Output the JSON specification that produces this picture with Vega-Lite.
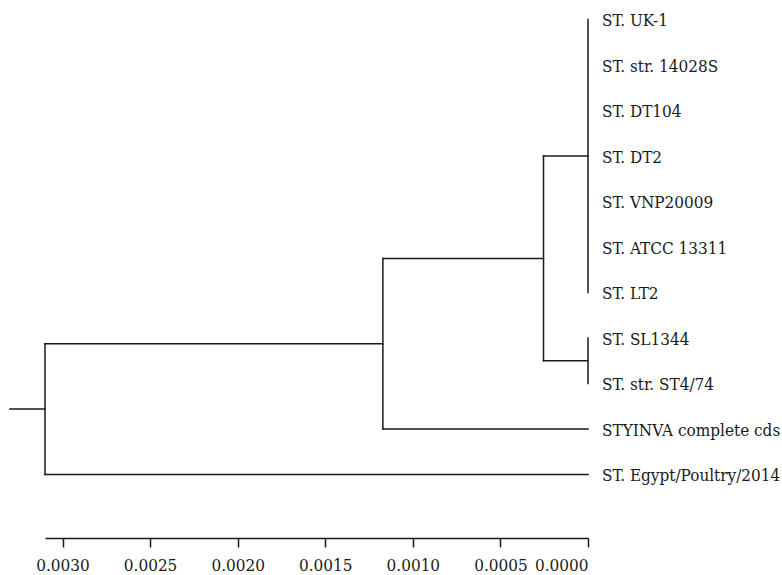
{
  "$schema": "https://vega.github.io/schema/vega-lite/v6.json",
  "width": 543,
  "height": 538,
  "autosize": "none",
  "padding": {"left": 45, "top": 0, "right": 194, "bottom": 37},
  "background": "white",
  "config": {"view": {"stroke": null}, "font": "DejaVu Serif Condensed, DejaVu Serif"},
  "datasets": {
    "segments": [
      {"x": 0.0033, "x2": 0.0031, "y": 9.5625, "y2": 9.5625},
      {"x": 0.0031, "x2": 0.0031, "y": 8.125, "y2": 11},
      {"x": 0.0031, "x2": 0.001171, "y": 8.125, "y2": 8.125},
      {"x": 0.0031, "x2": 0, "y": 11, "y2": 11},
      {"x": 0.001171, "x2": 0.001171, "y": 6.25, "y2": 10},
      {"x": 0.001171, "x2": 0.000254, "y": 6.25, "y2": 6.25},
      {"x": 0.001171, "x2": 0, "y": 10, "y2": 10},
      {"x": 0.000254, "x2": 0.000254, "y": 4, "y2": 8.5},
      {"x": 0.000254, "x2": 0, "y": 4, "y2": 4},
      {"x": 0.000254, "x2": 0, "y": 8.5, "y2": 8.5},
      {"x": 0, "x2": 0, "y": 1, "y2": 7},
      {"x": 0, "x2": 0, "y": 8, "y2": 9}
    ],
    "leaves": [
      {"name": "ST. UK-1", "height": 0, "order": 1},
      {"name": "ST. str. 14028S", "height": 0, "order": 2},
      {"name": "ST. DT104", "height": 0, "order": 3},
      {"name": "ST. DT2", "height": 0, "order": 4},
      {"name": "ST. VNP20009", "height": 0, "order": 5},
      {"name": "ST. ATCC 13311", "height": 0, "order": 6},
      {"name": "ST. LT2", "height": 0, "order": 7},
      {"name": "ST. SL1344", "height": 0, "order": 8},
      {"name": "ST. str. ST4/74", "height": 0, "order": 9},
      {"name": "STYINVA complete cds", "height": 0, "order": 10},
      {"name": "ST. Egypt/Poultry/2014", "height": 0, "order": 11}
    ]
  },
  "layer": [
    {
      "data": {"name": "segments"},
      "mark": {"type": "rule", "color": "#1a1a1a", "strokeWidth": 1.5, "strokeCap": "square"},
      "encoding": {
        "x": {
          "field": "x", "type": "quantitative",
          "scale": {"domain": [0, 0.0031], "reverse": true, "nice": false, "zero": false},
          "axis": {
            "title": null, "values": [0, 0.0005, 0.001, 0.0015, 0.002, 0.0025, 0.003],
            "format": ".4f", "grid": false,
            "domainColor": "#1a1a1a", "domainWidth": 1.5,
            "tickColor": "#1a1a1a", "tickWidth": 1.5, "tickSize": 9,
            "labelFont": "DejaVu Serif Condensed, DejaVu Serif", "labelFontSize": 17, "labelColor": "#1a1a1a",
            "labelPadding": 10
          }
        },
        "x2": {"field": "x2"},
        "y": {
          "field": "y", "type": "quantitative",
          "scale": {"domain": [0.5714, 12.3956], "reverse": true, "nice": false, "zero": false},
          "axis": null
        },
        "y2": {"field": "y2"}
      }
    },
    {
      "data": {"name": "leaves"},
      "mark": {"type": "text", "align": "left", "baseline": "alphabetic", "dx": 14, "dy": 6.5, "font": "DejaVu Serif Condensed, DejaVu Serif", "fontSize": 17, "color": "#1a1a1a"},
      "encoding": {
        "x": {"field": "height", "type": "quantitative"},
        "y": {"field": "order", "type": "quantitative"},
        "text": {"field": "name"}
      }
    }
  ]
}
